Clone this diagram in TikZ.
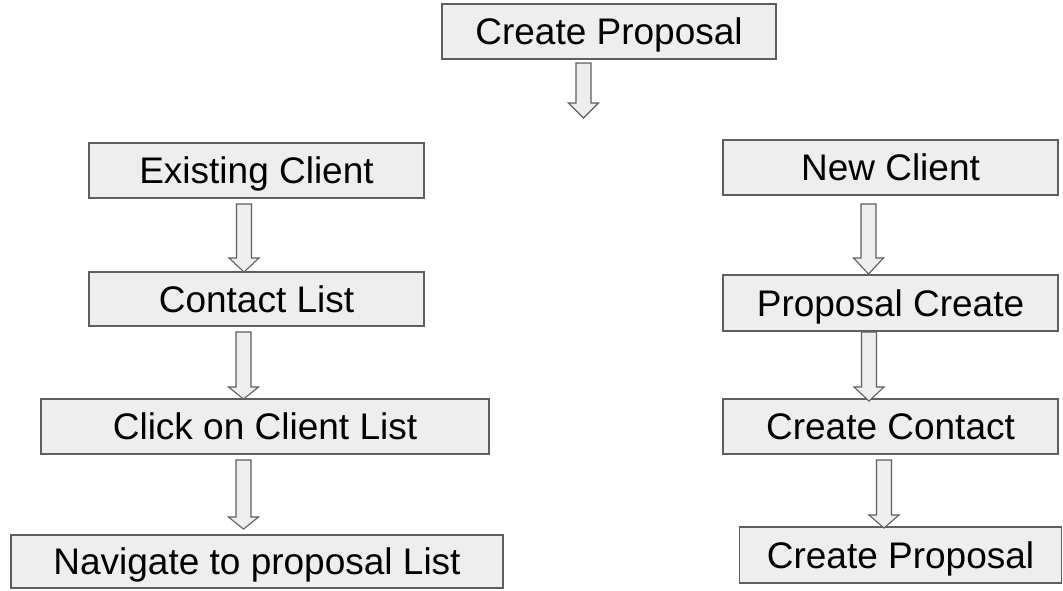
\documentclass[tikz,border=0pt]{standalone}
\usepackage{fontspec}
\setmainfont{Liberation Sans}
\definecolor{boxfill}{HTML}{EEEEEE}
\definecolor{boxline}{HTML}{5F5F5F}
\begin{document}
\begin{tikzpicture}[x=1pt,y=-1pt,
  stepbox/.style={draw=boxline,fill=boxfill,line width=1.3pt,rectangle,inner sep=0pt,
    font=\fontsize{37}{44}\selectfont,text height=26.5pt,text depth=0pt,anchor=center},
  barrow/.style={draw=boxline,fill=boxfill,line width=1.1pt,line join=miter}]
\useasboundingbox[fill=white] (0,0) rectangle (1063,590);
\newcommand{\blockarrow}[5]{% name, cx, top, headbase, tip
  \coordinate (#1) at (#2,#5);
  \draw[barrow] (#2-7.5,#3) -- (#2+7.5,#3) -- (#2+7.5,#4) -- (#2+15,#4) -- (#1) -- (#2-15,#4) -- (#2-7.5,#4) -- cycle;}
% boxes
\node[stepbox,minimum width=334pt,minimum height=55pt] (top) at (609,31.5) {Create Proposal};
\node[stepbox,minimum width=335pt,minimum height=55pt] (exist) at (256.5,170.5) {Existing Client};
\node[stepbox,minimum width=335pt,minimum height=54pt] (contact) at (256.5,299) {Contact List};
\node[stepbox,minimum width=448pt,minimum height=55pt] (click) at (265,426.5) {Click on Client List};
\node[stepbox,minimum width=492pt,minimum height=53pt] (nav) at (257,561.5) {Navigate to proposal List};
\node[stepbox,minimum width=335pt,minimum height=55pt] (newc) at (890.5,167.5) {New Client};
\node[stepbox,minimum width=335pt,minimum height=56pt] (pcreate) at (890.5,303) {Proposal Create};
\node[stepbox,minimum width=335pt,minimum height=55pt] (ccontact) at (890.5,426.5) {Create Contact};
\node[stepbox,minimum width=322pt,minimum height=56pt] (cprop) at (900.5,555) {Create Proposal};
% arrows
\blockarrow{a0}{583.5}{63}{103}{118}
\blockarrow{a1}{244}{204}{258}{272}
\blockarrow{a2}{243.5}{332}{387}{399}
\blockarrow{a3}{243.5}{460}{517}{529}
\blockarrow{b1}{868.5}{204}{258}{274}
\blockarrow{b2}{869}{332}{387}{401}
\blockarrow{b3}{884}{460}{515}{528}
\end{tikzpicture}
\end{document}
